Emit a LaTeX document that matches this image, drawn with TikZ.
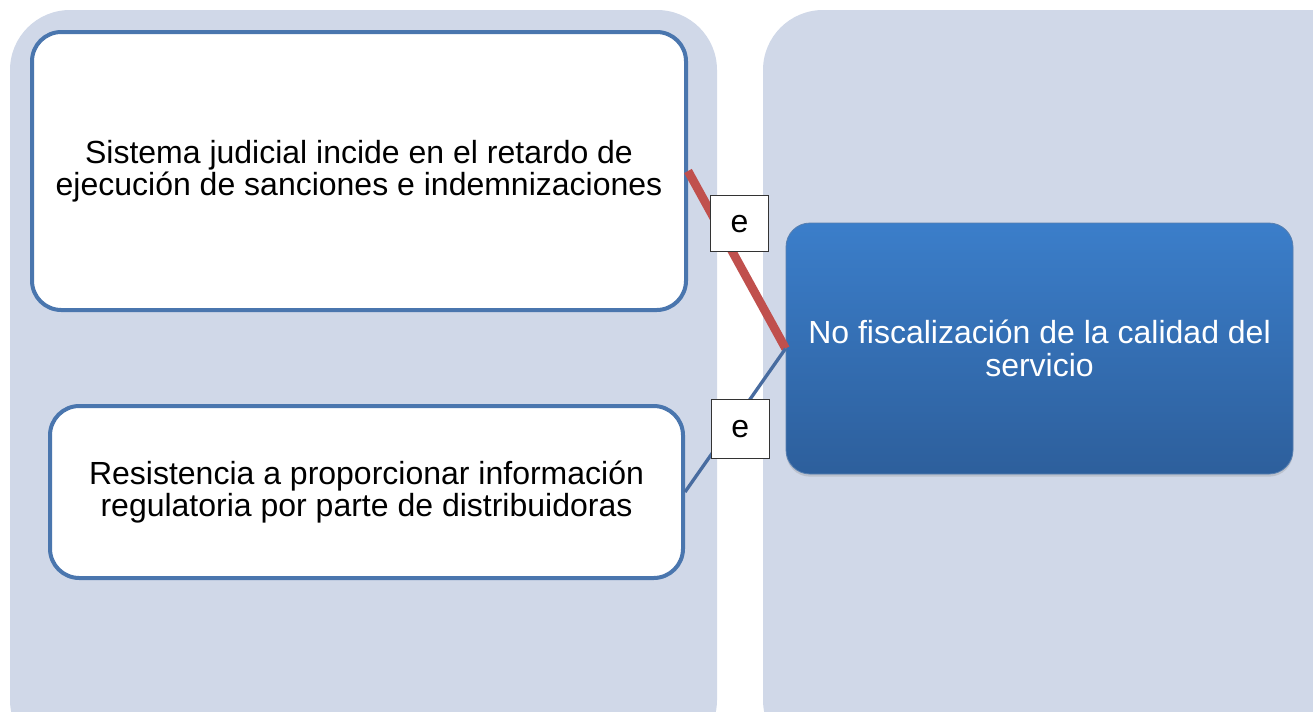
\documentclass[tikz,border=0pt]{standalone}
\usepackage{fontspec}
\setmainfont{Liberation Sans}
\usetikzlibrary{shadows}

\definecolor{panelgray}{RGB}{208,216,232}
\definecolor{boxblue}{RGB}{74,118,174}
\definecolor{linkred}{RGB}{192,80,77}
\definecolor{linkblue}{RGB}{72,108,160}
\definecolor{topblue}{RGB}{59,126,202}
\definecolor{bottomblue}{RGB}{45,95,156}

\tikzset{
    causebox/.style={draw=boxblue, line width=3pt, fill=white, rounded corners=22pt,
        align=center, font=\fontsize{24}{21.5}\selectfont},
    effectbox/.style={rounded corners=18pt, top color=topblue, bottom color=bottomblue,
        draw=bottomblue!80!white, line width=0.6pt, text=white, align=center,
        font=\fontsize{24}{25}\selectfont,
        drop shadow={shadow xshift=0pt, shadow yshift=-2pt, opacity=0.25}},
    tagbox/.style={draw=black!80, line width=0.6pt, fill=white, minimum width=43.5pt,
        minimum height=42pt, inner sep=0pt, text=black, font=\fontsize{24}{25}\selectfont}
}

\begin{document}
\begin{tikzpicture}[x=0.75pt, y=-0.75pt]

    % Fix the page size
    \useasboundingbox (0,0) rectangle (1313,711);

    % Background panels
    \begin{scope}
        \clip (0,0) rectangle (1313,711);
        \fill[panelgray, rounded corners=45pt] (10,10) rectangle (717,760);
        \fill[panelgray, rounded corners=45pt] (763,10) rectangle (1380,760);
    \end{scope}

    % Cause boxes
    \node[causebox, minimum width=490.5pt, minimum height=208.5pt] (judicial) at (359,171)
        {Sistema judicial incide en el retardo de\\ejecución de sanciones e indemnizaciones};
    \node[causebox, minimum width=474.75pt, minimum height=129pt] (resist) at (366.5,492)
        {Resistencia a proporcionar información\\regulatoria por parte de distribuidoras};

    % Effect box
    \node[effectbox, minimum width=380.25pt, minimum height=188.25pt] (fisc) at (1039.5,348.5)
        {No fiscalización de la calidad del\\servicio};

    % Links
    \draw[linkred, line width=6.5pt] (judicial.east) -- (fisc.west)
        node[tagbox, pos=0.5, xshift=2pt, yshift=27pt] (tagA) {e};
    \draw[linkblue, line width=2.5pt] (resist.east) -- (fisc.west)
        node[tagbox, pos=0.55, yshift=-12pt, minimum height=44pt] (tagB) {e};

\end{tikzpicture}
\end{document}
